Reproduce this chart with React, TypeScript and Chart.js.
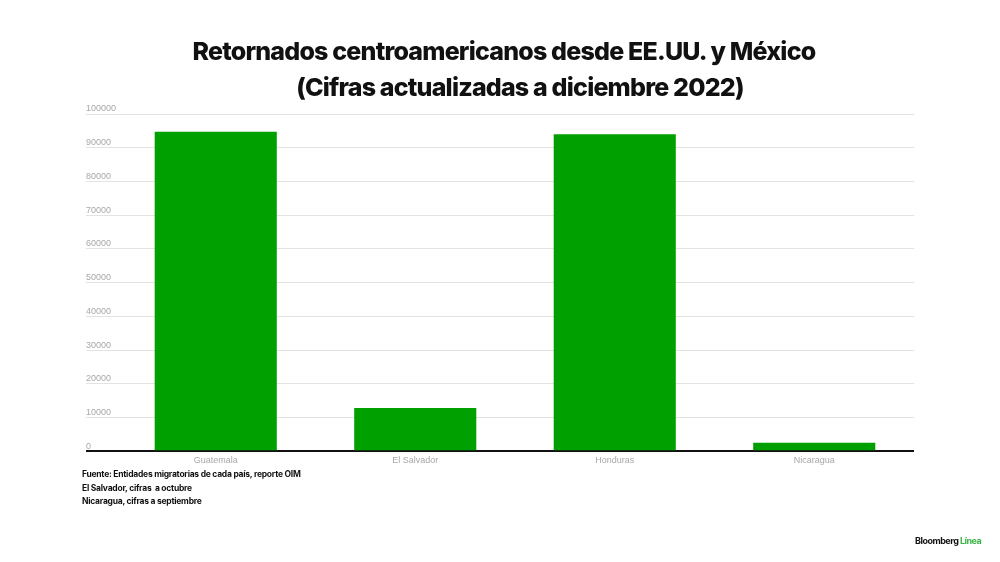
import React, { useEffect, useRef } from "react";
import { Chart, registerables } from "chart.js";

Chart.register(...registerables);

const categories = ["Guatemala", "El Salvador", "Honduras", "Nicaragua"];
const retornados = [94700, 12800, 94000, 2500];
const titleLines = [
  "Retornados centroamericanos desde EE.UU. y México",
  "(Cifras actualizadas a diciembre 2022)",
];
const notes = [
  "Fuente: Entidades migratorias de cada país, reporte OIM",
  "El Salvador, cifras  a octubre",
  "Nicaragua, cifras a septiembre",
];

const GREEN = "#00a000";
const GRID = "#e3e3e3";
const TICK_TEXT = "#a8a8a8";
const LABEL_X = 86;

// Draws the y-axis tick labels above each gridline and extends the gridlines to the left,
// using the library's own y scale ticks and pixel mapping.
const leftTicksPlugin = {
  id: "leftTicks",
  beforeDatasetsDraw(chart: any) {
    const { ctx, chartArea, scales } = chart;
    const ys = scales.y;
    ctx.save();
    ys.ticks.forEach((t: any) => {
      const py = ys.getPixelForValue(t.value);
      const zero = t.value === 0;
      const w = zero ? 2 : 1;
      ctx.strokeStyle = zero ? "#111111" : GRID;
      ctx.lineWidth = w;
      const yy = Math.round(py - w / 2) + w / 2;
      ctx.beginPath();
      ctx.moveTo(LABEL_X, yy);
      ctx.lineTo(chartArea.left + 1, yy);
      ctx.stroke();
      ctx.fillStyle = TICK_TEXT;
      ctx.font = "9px 'Liberation Sans', Arial, sans-serif";
      ctx.textAlign = "left";
      ctx.textBaseline = "middle";
      ctx.fillText(String(t.value), LABEL_X, py - 5);
    });
    ctx.restore();
  },
};

export default function App() {
  const ref = useRef<HTMLCanvasElement | null>(null);

  useEffect(() => {
    if (!ref.current) return;
    const chart = new Chart(ref.current, {
      type: "bar",
      data: {
        labels: categories,
        datasets: [
          {
            data: retornados,
            backgroundColor: GREEN,
            borderWidth: 0,
            categoryPercentage: 1,
            barPercentage: 0.612,
          },
        ],
      },
      options: {
        animation: false,
        responsive: false,
        maintainAspectRatio: false,
        layout: { padding: { left: 116, right: 86, top: 114, bottom: 92 } },
        plugins: {
          legend: { display: false },
          tooltip: { enabled: false },
          title: { display: false },
        },
        scales: {
          x: {
            grid: { display: false, drawTicks: false },
            border: { display: false },
            ticks: {
              color: TICK_TEXT,
              font: { family: "'Liberation Sans', Arial, sans-serif", size: 9 },
              padding: 4,
            },
          },
          y: {
            min: 0,
            max: 100000,
            border: { display: false },
            grid: {
              color: (ctx: any) => (ctx.tick && ctx.tick.value === 0 ? "#111111" : GRID),
              lineWidth: (ctx: any) => (ctx.tick && ctx.tick.value === 0 ? 2 : 1),
              drawTicks: false,
            },
            ticks: {
              stepSize: 10000,
              display: false,
            },
          },
        },
      },
      plugins: [leftTicksPlugin],
    });
    return () => chart.destroy();
  }, []);

  const titleStyle: React.CSSProperties = {
    position: "absolute",
    transform: "translateX(-50%)",
    whiteSpace: "pre",
    fontFamily: "Inter, 'Noto Sans', sans-serif",
    fontWeight: 800,
    fontSize: 25,
    letterSpacing: "-0.8px",
    color: "#111",
    lineHeight: "30px",
  };

  return (
    <div
      style={{
        position: "fixed",
        left: 0,
        top: 0,
        width: 1000,
        height: 562,
        background: "#fff",
        overflow: "hidden",
      }}
    >
      <canvas ref={ref} width={1000} height={562} style={{ position: "absolute", left: 0, top: 0, width: 1000, height: 562 }} />
      <div style={{ ...titleStyle, left: 504, top: 36 }}>{titleLines[0]}</div>
      <div style={{ ...titleStyle, left: 520, top: 72 }}>{titleLines[1]}</div>
      {notes.map((n, i) => (
        <div
          key={i}
          style={{
            position: "absolute",
            left: 82,
            top: 468 + i * 13.5,
            whiteSpace: "pre",
            fontFamily: "Inter, 'Noto Sans', sans-serif",
            fontWeight: 700,
            fontSize: 8.5,
            letterSpacing: "-0.25px",
            color: "#111",
            lineHeight: "12px",
          }}
        >
          {n}
        </div>
      ))}
      <div
        style={{
          position: "absolute",
          left: 915,
          top: 535,
          whiteSpace: "pre",
          fontFamily: "Inter, 'Noto Sans', sans-serif",
          fontWeight: 700,
          fontSize: 9,
          letterSpacing: "-0.5px",
          lineHeight: "12px",
        }}
      >
        <span style={{ color: "#111" }}>Bloomberg </span>
        <span style={{ color: "#3bb54a" }}>Línea</span>
      </div>
    </div>
  );
}
